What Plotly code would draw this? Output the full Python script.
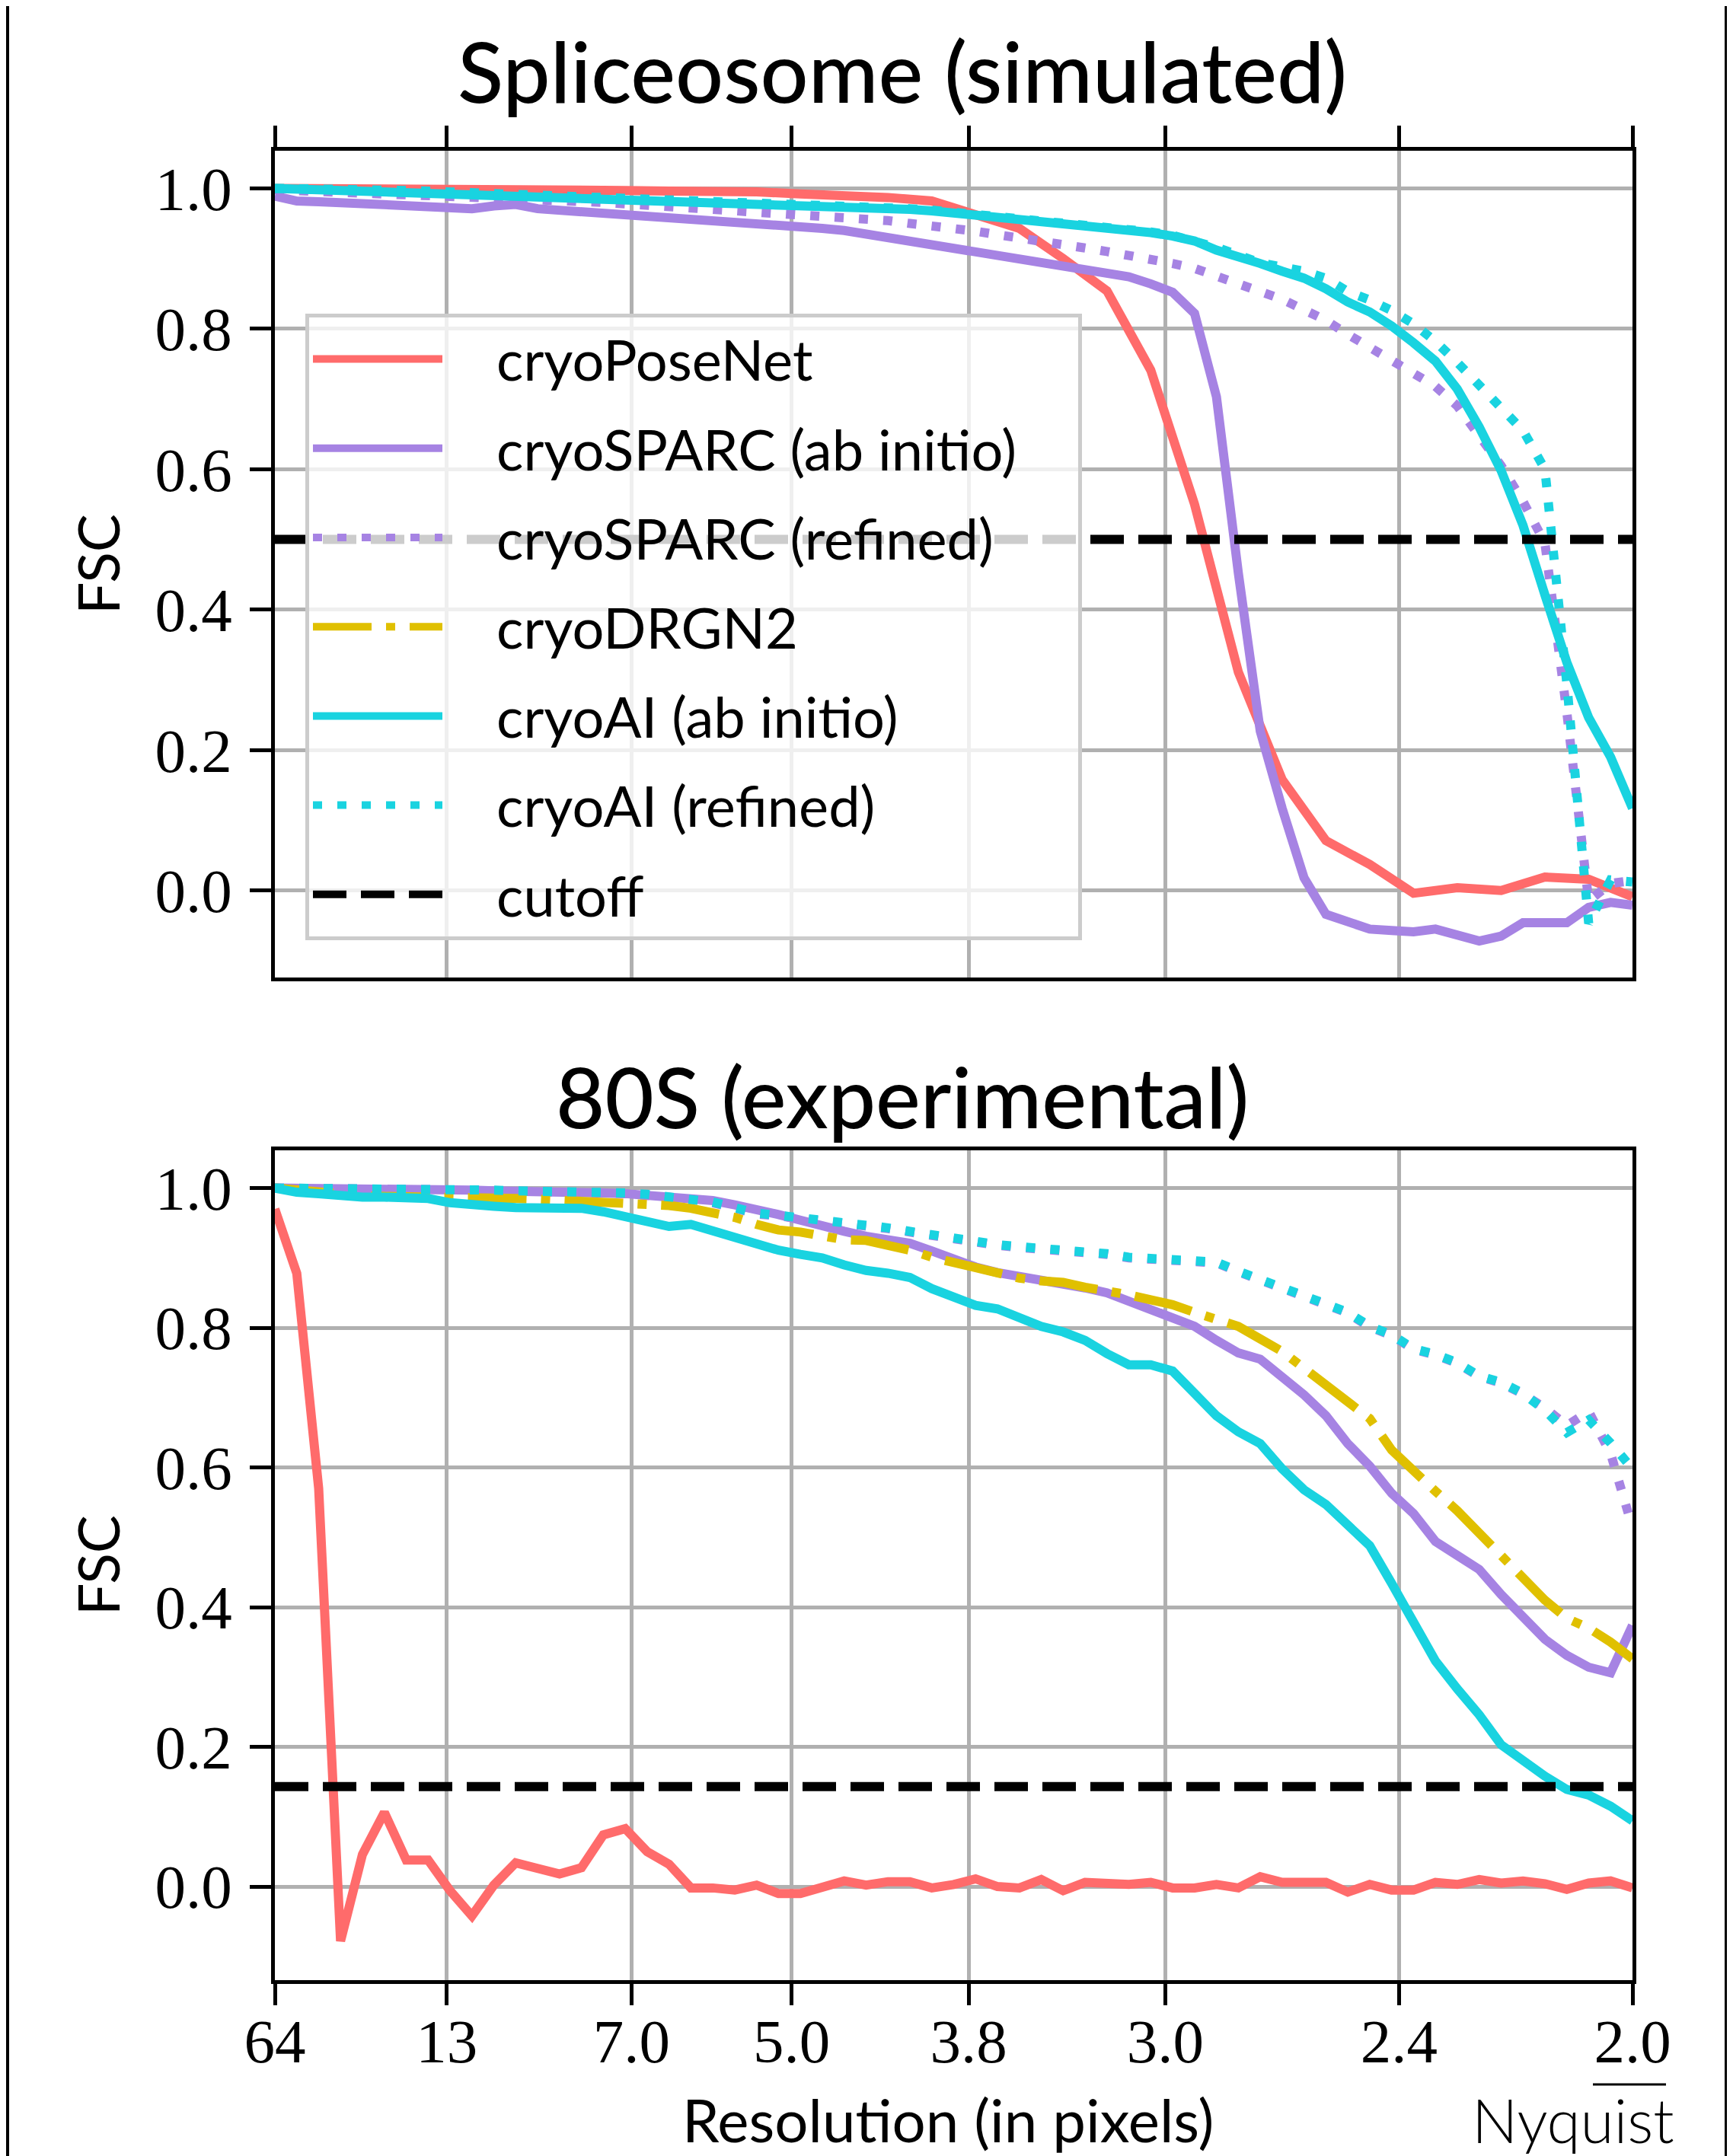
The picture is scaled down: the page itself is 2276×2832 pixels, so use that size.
import plotly.graph_objects as go

W, H = 2276, 2832
OFF = 8  # default page body margin shifts the figure by this much

# ---------------- data ----------------
k_all = list(range(2, 65))          # frequency shell index (res = 128 / k)
k_even = list(range(2, 65, 2))

res_ticks = [64, 13, 7.0, 5.0, 3.8, 3.0, 2.4, 2.0]
tick_text = ["64", "13", "7.0", "5.0", "3.8", "3.0", "2.4", "2.0"]
y_ticks = [0.0, 0.2, 0.4, 0.6, 0.8, 1.0]
y_tick_text = ["0.0", "0.2", "0.4", "0.6", "0.8", "1.0"]

# Spliceosome (simulated)
sim_cryoposenet = [1.0, 1.0, 1.0, 0.999, 0.999, 0.998, 0.998, 0.997, 0.997, 0.996, 0.996,
                   0.995, 0.992, 0.990, 0.987, 0.982, 0.962, 0.943, 0.900, 0.854, 0.741,
                   0.550, 0.311, 0.158, 0.071, 0.037, -0.004, 0.004, 0.000, 0.019, 0.016, -0.009]
sim_sparc_ab = [0.989, 0.982, 0.981, 0.980, 0.979, 0.978, 0.977, 0.976, 0.973, 0.971, 0.975,
                0.977, 0.971, 0.969, 0.968, 0.966, 0.964, 0.961, 0.958, 0.956, 0.954, 0.952,
                0.950, 0.947, 0.945, 0.943, 0.940, 0.935, 0.930, 0.925, 0.920, 0.915, 0.910,
                0.905, 0.900, 0.896, 0.892, 0.887, 0.881, 0.874, 0.864, 0.852, 0.822, 0.703,
                0.452, 0.227, 0.117, 0.018, -0.034, -0.045, -0.055, -0.057, -0.059, -0.055,
                -0.063, -0.072, -0.065, -0.046, -0.046, -0.046, -0.024, -0.017, -0.021]
sim_sparc_ref = [0.998, 0.997, 0.996, 0.995, 0.994, 0.993, 0.992, 0.991, 0.990, 0.989, 0.988,
                 0.987, 0.986, 0.984, 0.982, 0.980, 0.978, 0.976, 0.974, 0.972, 0.970, 0.968,
                 0.967, 0.966, 0.964, 0.962, 0.960, 0.957, 0.954, 0.950, 0.947, 0.943, 0.939,
                 0.934, 0.930, 0.925, 0.920, 0.915, 0.910, 0.905, 0.899, 0.893, 0.886, 0.876,
                 0.864, 0.853, 0.842, 0.828, 0.812, 0.792, 0.774, 0.756, 0.737, 0.718, 0.690,
                 0.650, 0.605, 0.554, 0.495, 0.254, -0.015, 0.010, 0.014]
sim_ai_ab = [1.0, 0.999, 0.998, 0.997, 0.997, 0.996, 0.995, 0.995, 0.994, 0.993, 0.992, 0.991,
             0.990, 0.989, 0.988, 0.987, 0.986, 0.985, 0.984, 0.983, 0.982, 0.981, 0.980, 0.979,
             0.978, 0.977, 0.976, 0.974, 0.972, 0.970, 0.968, 0.965, 0.962, 0.959, 0.956, 0.953,
             0.950, 0.948, 0.945, 0.941, 0.937, 0.932, 0.925, 0.912, 0.904, 0.893, 0.882, 0.872,
             0.857, 0.838, 0.824, 0.804, 0.780, 0.754, 0.714, 0.660, 0.598, 0.520, 0.421, 0.325,
             0.246, 0.190, 0.117]
sim_ai_ref = [1.0, 1.0, 0.999, 0.998, 0.998, 0.997, 0.997, 0.996, 0.995, 0.994, 0.993, 0.992,
              0.991, 0.990, 0.989, 0.988, 0.987, 0.986, 0.985, 0.984, 0.983, 0.982, 0.981, 0.980,
              0.979, 0.978, 0.977, 0.975, 0.973, 0.971, 0.969, 0.966, 0.963, 0.960, 0.957, 0.954,
              0.951, 0.949, 0.946, 0.942, 0.938, 0.933, 0.926, 0.916, 0.905, 0.894, 0.888, 0.882,
              0.872, 0.853, 0.841, 0.826, 0.807, 0.782, 0.752, 0.720, 0.690, 0.655, 0.600, 0.295,
              -0.047, 0.015, 0.012]
sim_cutoff = 0.5

# 80S (experimental)
exp_cryoposenet = [0.97, 0.878, 0.57, -0.078, 0.046, 0.106, 0.038, 0.038, -0.006, -0.042, 0.002,
                   0.034, 0.026, 0.018, 0.027, 0.074, 0.083, 0.05, 0.032, -0.002, -0.002, -0.005,
                   0.002, -0.01, -0.01, -0.002, 0.008, 0.002, 0.007, 0.007, -0.002, 0.003, 0.011,
                   0.0, -0.002, 0.01, -0.006, 0.006, 0.003, 0.003, 0.006, -0.002, -0.002, 0.003,
                   -0.002, 0.014, 0.006, 0.006, 0.006, -0.008, 0.003, -0.005, -0.005, 0.006,
                   0.003, 0.01, 0.005, 0.008, 0.004, -0.004, 0.005, 0.008, -0.002]
exp_sparc_ab = [1.0, 1.0, 0.999, 0.999, 0.998, 0.998, 0.998, 0.997, 0.997, 0.997, 0.996, 0.996,
                0.995, 0.995, 0.994, 0.993, 0.992, 0.990, 0.988, 0.986, 0.982, 0.976, 0.970,
                0.962, 0.954, 0.945, 0.938, 0.931, 0.926, 0.921, 0.910, 0.898, 0.887, 0.879,
                0.874, 0.866, 0.862, 0.857, 0.850, 0.838, 0.828, 0.817, 0.802, 0.782, 0.764,
                0.755, 0.730, 0.704, 0.674, 0.634, 0.602, 0.563, 0.534, 0.494, 0.474, 0.454,
                0.418, 0.386, 0.354, 0.331, 0.314, 0.306, 0.374]
exp_sparc_ref = [1.0, 1.0, 0.999, 0.999, 0.999, 0.998, 0.998, 0.998, 0.997, 0.997, 0.996, 0.996,
                 0.995, 0.995, 0.994, 0.993, 0.992, 0.990, 0.987, 0.984, 0.979, 0.971, 0.963,
                 0.960, 0.957, 0.954, 0.950, 0.946, 0.942, 0.937, 0.932, 0.925, 0.921, 0.918,
                 0.915, 0.913, 0.912, 0.909, 0.905, 0.900, 0.898, 0.898, 0.896, 0.893, 0.880,
                 0.869, 0.855, 0.847, 0.833, 0.821, 0.801, 0.789, 0.769, 0.761, 0.749, 0.730,
                 0.721, 0.705, 0.685, 0.660, 0.680, 0.620, 0.514]
exp_drgn2 = [1.0, 0.997, 0.993, 0.989, 0.989, 0.988, 0.988, 0.987, 0.986, 0.986, 0.986, 0.985,
             0.984, 0.983, 0.982, 0.981, 0.980, 0.978, 0.975, 0.971, 0.966, 0.958, 0.948, 0.940,
             0.937, 0.930, 0.926, 0.925, 0.919, 0.911, 0.901, 0.893, 0.884, 0.876, 0.871, 0.867,
             0.865, 0.858, 0.854, 0.847, 0.840, 0.833, 0.822, 0.811, 0.802, 0.784, 0.766, 0.742,
             0.718, 0.698, 0.670, 0.625, 0.594, 0.566, 0.538, 0.506, 0.474, 0.442, 0.410, 0.384,
             0.370, 0.350, 0.326]
exp_ai_ab = [1.0, 0.994, 0.992, 0.988, 0.987, 0.987, 0.986, 0.985, 0.979, 0.975, 0.974, 0.972,
             0.971, 0.972, 0.971, 0.966, 0.958, 0.952, 0.945, 0.948, 0.938, 0.928, 0.918, 0.911,
             0.905, 0.900, 0.890, 0.882, 0.878, 0.872, 0.856, 0.844, 0.832, 0.827, 0.814, 0.802,
             0.794, 0.782, 0.763, 0.747, 0.747, 0.738, 0.706, 0.674, 0.651, 0.634, 0.598, 0.568,
             0.547, 0.518, 0.488, 0.434, 0.378, 0.323, 0.283, 0.246, 0.203, 0.179, 0.158, 0.139,
             0.131, 0.115, 0.094]
exp_ai_ref = [1.0, 1.0, 1.0, 0.999, 0.999, 0.999, 0.998, 0.998, 0.998, 0.997, 0.997, 0.996,
              0.996, 0.995, 0.995, 0.994, 0.993, 0.991, 0.988, 0.985, 0.980, 0.972, 0.964, 0.961,
              0.958, 0.955, 0.951, 0.947, 0.943, 0.938, 0.933, 0.926, 0.922, 0.919, 0.916, 0.914,
              0.913, 0.910, 0.906, 0.901, 0.899, 0.899, 0.897, 0.894, 0.881, 0.870, 0.856, 0.848,
              0.834, 0.822, 0.802, 0.790, 0.770, 0.762, 0.750, 0.731, 0.722, 0.706, 0.682, 0.650,
              0.668, 0.635, 0.598]
exp_cutoff = 0.143

# ---------------- styles ----------------
C_RED = "#FF6B6B"
C_PURPLE = "#A683E3"
C_YELLOW = "#E0C000"
C_CYAN = "#19D3E0"
LW = 12
DASHED = "44px,19px"
DOTTED = "12px,20px"
DASHDOT = "77px,19px,12px,19px"
SANS = "Lato"
SERIF = "Liberation Serif"
NB = "\u00a0"
PAD = NB * 3 + "\u2009"   # visual gap between legend sample and label
TAIL = {"cryoSPARC (ab initio)": NB * 4}   # widens legend box like the original

def px(x):
    return (x - OFF) / W

def py(y):
    return 1 - (y - OFF) / H

tick_pos = [128.0 / r for r in res_ticks]

fig = go.Figure()

def add(x, y, name, color, dash, xa, ya, rank, show):
    fig.add_trace(go.Scatter(
        x=x, y=y, name=PAD + name + TAIL.get(name, ""), mode="lines",
        line=dict(color=color, width=LW, dash=dash),
        xaxis=xa, yaxis=ya, showlegend=show, legendrank=rank,
        legendgroup=name,
    ))

# top panel
add(k_even, sim_cryoposenet, "cryoPoseNet", C_RED, "solid", "x", "y", 1, True)
add(k_all, sim_sparc_ab, "cryoSPARC (ab initio)", C_PURPLE, "solid", "x", "y", 2, True)
add(k_all, sim_sparc_ref, "cryoSPARC (refined)", C_PURPLE, DOTTED, "x", "y", 3, True)
add(k_all, sim_ai_ab, "cryoAI (ab initio)", C_CYAN, "solid", "x", "y", 5, True)
add(k_all, sim_ai_ref, "cryoAI (refined)", C_CYAN, DOTTED, "x", "y", 6, True)
add([k_all[0], k_all[-1]], [sim_cutoff, sim_cutoff], "cutoff", "black", DASHED, "x", "y", 7, True)

# bottom panel
add(k_all, exp_cryoposenet, "cryoPoseNet", C_RED, "solid", "x2", "y2", 1, False)
add(k_all, exp_sparc_ab, "cryoSPARC (ab initio)", C_PURPLE, "solid", "x2", "y2", 2, False)
add(k_all, exp_sparc_ref, "cryoSPARC (refined)", C_PURPLE, DOTTED, "x2", "y2", 3, False)
add(k_all, exp_drgn2, "cryoDRGN2", C_YELLOW, DASHDOT, "x2", "y2", 4, True)
add(k_all, exp_ai_ab, "cryoAI (ab initio)", C_CYAN, "solid", "x2", "y2", 5, False)
add(k_all, exp_ai_ref, "cryoAI (refined)", C_CYAN, DOTTED, "x2", "y2", 6, False)
add([k_all[0], k_all[-1]], [exp_cutoff, exp_cutoff], "cutoff", "black", DASHED, "x2", "y2", 7, False)

x_dom = [px(361), px(2144)]
common_axis = dict(
    showline=True, linecolor="black", linewidth=5, mirror=True,
    ticks="outside", ticklen=28, tickwidth=5, tickcolor="black",
    showgrid=True, gridcolor="#b0b0b0", gridwidth=4.5, zeroline=False,
    automargin=False,
    tickfont=dict(family=SERIF, size=81, color="black"),
)

fig.update_layout(
    width=W, height=H,
    margin=dict(l=0, r=0, t=0, b=0, pad=0, autoexpand=False),
    paper_bgcolor="white", plot_bgcolor="white",
    xaxis=dict(domain=x_dom, range=[2, 64], anchor="y", side="top",
               tickvals=tick_pos, ticktext=tick_text, showticklabels=False, **common_axis),
    yaxis=dict(domain=[py(1284), py(197.6)], range=[-0.124, 1.054], anchor="x",
               tickvals=y_ticks, ticktext=y_tick_text, ticklabelstandoff=7, **common_axis),
    xaxis2=dict(domain=x_dom, range=[2, 64], anchor="y2", side="bottom",
                tickvals=tick_pos, ticktext=tick_text, ticklabelstandoff=-22, **common_axis),
    yaxis2=dict(domain=[py(2601), py(1511)], range=[-0.134, 1.054], anchor="x2",
                tickvals=y_ticks, ticktext=y_tick_text, ticklabelstandoff=7, **common_axis),
    legend=dict(
        x=px(401), y=py(412), xanchor="left", yanchor="top",
        bgcolor="rgba(255,255,255,0.8)", bordercolor="#cccccc", borderwidth=5,
        font=dict(family=SANS, size=74, color="black"),
        itemwidth=170, tracegroupgap=18,
    ),
    showlegend=True,
)

ann = [
    dict(text="Spliceosome (simulated)", x=px(1185), y=py(92), size=111, weight=500),
    dict(text="80S (experimental)", x=px(1185), y=py(1439), size=111, weight=500),
    dict(text="FSC", x=px(128), y=py(741), size=75, weight=400, angle=-90),
    dict(text="FSC", x=px(128), y=py(2056), size=75, weight=400, angle=-90),
    dict(text="Resolution (in pixels)", x=px(1245), y=py(2784), size=78, weight=400),
    dict(text="Nyquist", x=px(2066), y=py(2784), size=80, weight=300),
]
for a in ann:
    fig.add_annotation(
        text=a["text"], x=a["x"], y=a["y"], xref="paper", yref="paper",
        xanchor="center", yanchor="middle", showarrow=False,
        textangle=a.get("angle", 0),
        font=dict(family=SANS, size=a["size"], color="black", weight=a["weight"]),
    )

# figure frame (vertical edges) and Nyquist marker bar
fig.add_shape(type="line", xref="paper", yref="paper", x0=px(10), x1=px(10), y0=0, y1=1,
              line=dict(color="black", width=4))
fig.add_shape(type="line", xref="paper", yref="paper", x0=px(2267), x1=px(2267), y0=0, y1=1,
              line=dict(color="black", width=4))
fig.add_shape(type="line", xref="paper", yref="paper", x0=px(2092), x1=px(2188),
              y0=py(2738), y1=py(2738), line=dict(color="black", width=3))

fig.write_html("out.html")
